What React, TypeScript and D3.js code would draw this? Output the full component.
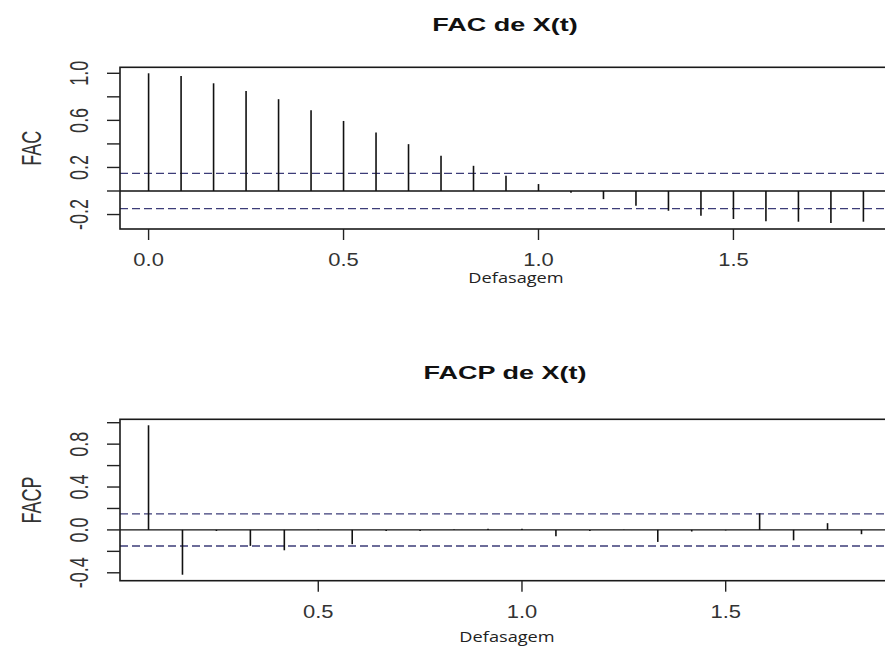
import React from "react";
import * as d3 from "d3";

// Sample autocorrelations, lags 0..22 (in years, frequency 12)
const acfValues = [
  1.0, 0.977, 0.915, 0.85, 0.78, 0.686, 0.595, 0.497, 0.398, 0.299, 0.214, 0.129,
  0.059, -0.015, -0.069, -0.125, -0.168, -0.21, -0.238, -0.258, -0.261, -0.272, -0.261,
];
// Sample partial autocorrelations, lags 1..22
const pacfValues = [
  0.976, -0.418, -0.01, -0.149, -0.19, 0.003, -0.133, -0.01, -0.01, 0.003, 0.01,
  0.01, -0.06, -0.01, 0.002, -0.112, -0.015, -0.005, 0.155, -0.097, 0.063, -0.04,
];
const acfLags = acfValues.map((_, i) => i / 12);
const pacfLags = pacfValues.map((_, i) => (i + 1) / 12);
const confLimit = 0.15;

const acfYTicks = [-0.2, 0, 0.2, 0.4, 0.6, 0.8, 1.0];
const acfYLabels = ["-0.2", "0.2", "0.6", "1.0"];
const acfXTicks = [0, 0.5, 1.0, 1.5];
const pacfYTicks = [-0.4, -0.2, 0, 0.2, 0.4, 0.6, 0.8, 1.0];
const pacfYLabels = ["-0.4", "0.0", "0.4", "0.8"];
const pacfXTicks = [0.5, 1.0, 1.5];

const SANS = "'Liberation Sans', Arial, sans-serif";
const LABEL_FONT = "'Open Sans', 'Noto Sans', sans-serif";

// R-style axis limits: data range extended by 4% on each side
function extended(values: number[]): [number, number] {
  const [lo, hi] = d3.extent(values) as [number, number];
  const pad = (hi - lo) * 0.04;
  return [lo - pad, hi + pad];
}

type PanelProps = {
  lags: number[];
  values: number[];
  yTicks: number[];
  yLabels: string[];
  xTicks: number[];
  title: string;
  yTitle: string;
  box: { left: number; right: number; top: number; bottom: number };
  titleY: number;
  tickLabelY: number;
  xTitle: { x: number; y: number };
};

function Panel(p: PanelProps) {
  const x = d3.scaleLinear().domain(extended(p.lags)).range([p.box.left, p.box.right]);
  const y = d3
    .scaleLinear()
    .domain(extended([...p.values, confLimit, -confLimit]))
    .range([p.box.bottom, p.box.top]);
  const fmt = d3.format(".1f");
  const midY = (p.box.top + p.box.bottom) / 2;

  return (
    <g>
      <text
        transform={`translate(505,${p.titleY}) scale(1.5,1)`}
        textAnchor="middle"
        fontFamily={SANS}
        fontWeight="bold"
        fontSize={18}
        fill="#111"
      >
        {p.title}
      </text>

      {/* confidence bounds */}
      {[confLimit, -confLimit].map((c) => (
        <line
          key={c}
          x1={p.box.left}
          x2={p.box.right}
          y1={y(c)}
          y2={y(c)}
          stroke="#3c3c78"
          strokeWidth={1.3}
          strokeDasharray="8,4"
        />
      ))}

      {/* zero line */}
      <line x1={p.box.left} x2={p.box.right} y1={y(0)} y2={y(0)} stroke="#111" strokeWidth={1.4} />

      {/* spikes */}
      {p.values.map((v, i) => (
        <line
          key={i}
          x1={x(p.lags[i])}
          x2={x(p.lags[i])}
          y1={y(0)}
          y2={y(v)}
          stroke="#111"
          strokeWidth={1.6}
        />
      ))}

      <rect
        x={p.box.left}
        y={p.box.top}
        width={p.box.right - p.box.left}
        height={p.box.bottom - p.box.top}
        fill="none"
        stroke="#1a1a1a"
        strokeWidth={1.6}
      />

      {/* y axis */}
      {p.yTicks.map((t) => (
        <line key={t} x1={p.box.left - 13} x2={p.box.left} y1={y(t)} y2={y(t)} stroke="#222" strokeWidth={1.4} />
      ))}
      {p.yLabels.map((s) => (
        <text
          key={s}
          transform={`translate(88,${y(+s)}) scale(1.45,1) rotate(-90)`}
          textAnchor="middle"
          fontFamily={SANS}
          fontSize={18}
          fill="#333"
        >
          {s}
        </text>
      ))}
      <text
        transform={`translate(41,${midY}) scale(1.5,1) rotate(-90)`}
        textAnchor="middle"
        fontFamily={SANS}
        fontSize={18}
        fill="#333"
      >
        {p.yTitle}
      </text>

      {/* x axis */}
      {p.xTicks.map((t) => (
        <g key={t}>
          <line x1={x(t)} x2={x(t)} y1={p.box.bottom} y2={p.box.bottom + 11} stroke="#222" strokeWidth={1.4} />
          <text
            transform={`translate(${x(t)},${p.tickLabelY}) scale(1.22,1)`}
            textAnchor="middle"
            fontFamily={SANS}
            fontSize={18}
            fill="#333"
          >
            {fmt(t)}
          </text>
        </g>
      ))}
      <text
        transform={`translate(${p.xTitle.x},${p.xTitle.y}) scale(1.3,1)`}
        textAnchor="middle"
        fontFamily={LABEL_FONT}
        fontSize={14}
        fill="#222"
      >
        Defasagem
      </text>
    </g>
  );
}

export default function App() {
  return (
    <svg
      width={885}
      height={650}
      style={{ position: "absolute", left: 0, top: 0, background: "#fff" }}
    >
      <rect width={885} height={650} fill="#fff" />
      <Panel
        lags={acfLags}
        values={acfValues}
        yTicks={acfYTicks}
        yLabels={acfYLabels}
        xTicks={acfXTicks}
        title="FAC de X(t)"
        yTitle="FAC"
        box={{ left: 120, right: 892, top: 67.3, bottom: 229 }}
        titleY={31}
        tickLabelY={266}
        xTitle={{ x: 516, y: 283 }}
      />
      <Panel
        lags={pacfLags}
        values={pacfValues}
        yTicks={pacfYTicks}
        yLabels={pacfYLabels}
        xTicks={pacfXTicks}
        title="FACP de X(t)"
        yTitle="FACP"
        box={{ left: 120, right: 890, top: 419.3, bottom: 580.7 }}
        titleY={378.5}
        tickLabelY={618}
        xTitle={{ x: 507, y: 642 }}
      />
    </svg>
  );
}
